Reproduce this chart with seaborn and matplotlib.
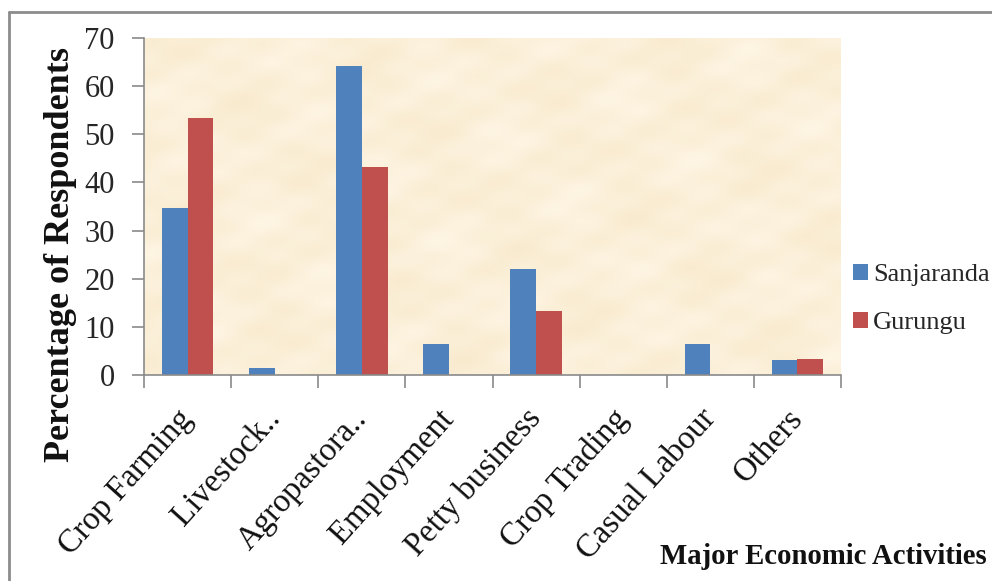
import numpy as np
import pandas as pd
import matplotlib
matplotlib.use("Agg")
import matplotlib.pyplot as plt
from matplotlib.lines import Line2D
from matplotlib.ticker import FixedLocator
from matplotlib.colors import LinearSegmentedColormap
import seaborn as sns

# Survey results: share of respondents by major economic activity
activities = ["Crop Farming", "Livestock..", "Agropastora..", "Employment",
              "Petty business", "Crop Trading", "Casual Labour", "Others"]
sanjaranda = [34.6, 1.5, 64.2, 6.4, 22.0, 0.0, 6.4, 3.1]
gurungu = [53.4, 0.0, 43.3, 0.0, 13.2, 0.0, 0.0, 3.4]
sites = ["Sanjaranda", "Gurungu"]
yticks = [0, 10, 20, 30, 40, 50, 60, 70]

df = pd.DataFrame({
    "Activity": activities * 2,
    "Site": [sites[0]] * len(activities) + [sites[1]] * len(activities),
    "Percent": sanjaranda + gurungu,
})

sns.set_theme(style="white")
plt.rcParams["font.family"] = ["Liberation Serif", "DejaVu Serif"]

fig = plt.figure(figsize=(9.92, 5.81), dpi=100)
fig.patch.set_facecolor("white")
ax = fig.add_axes([144 / 992, 1 - 375 / 581, (841 - 144) / 992, (375 - 38) / 581])
ax.set_facecolor("#FCF0DA")

# soft parchment fill behind the bars
gx, gy = np.meshgrid(np.linspace(0, 1, 350), np.linspace(0, 1, 170))
mottle = (np.sin(gx * 23 + gy * 7) * np.cos(gy * 19 - gx * 5)
          + 0.6 * np.sin(gx * 41 - gy * 29 + 1.3) * np.sin(gy * 37 + 0.7)
          + 0.4 * np.cos(gx * 67 + gy * 53))
mottle = (mottle - mottle.min()) / (mottle.max() - mottle.min())
parchment = LinearSegmentedColormap.from_list("parchment", ["#FEF5E4", "#F8EACD"])
ax.imshow(mottle, cmap=parchment, extent=(0, 1, 0, 1), transform=ax.transAxes,
          aspect="auto", interpolation="bicubic", zorder=0)

palette = {"Sanjaranda": "#4F81BD", "Gurungu": "#C0504D"}
sns.barplot(data=df, x="Activity", y="Percent", hue="Site", order=activities,
            hue_order=sites, palette=palette, width=0.59, gap=0,
            saturation=1, edgecolor="none", linewidth=0, ax=ax, legend=True,
            zorder=2)

axis_grey = "#8A8A8A"
ax.set_xlim(-0.5, len(activities) - 0.5)
ax.set_ylim(0, 70)
ax.set_yticks(yticks)
ax.set_yticklabels([str(v) for v in yticks], fontsize=22, color="#262626")
ax.tick_params(axis="y", length=9, width=1.2, color=axis_grey, pad=12, left=True)

# category boundaries carry the x ticks, labels sit on the centres
ax.xaxis.set_minor_locator(FixedLocator(np.arange(-0.5, len(activities), 1.0)))
ax.tick_params(axis="x", which="minor", length=9, width=1.2, color=axis_grey,
               bottom=True, direction="out")
ax.tick_params(axis="x", which="major", length=0, pad=28)
ax.set_xticks(range(len(activities)))
ax.set_xticklabels(activities, rotation=48, ha="right", va="center",
                   rotation_mode="anchor", fontsize=23.5, color="#111111")

for side in ("top", "right"):
    ax.spines[side].set_visible(False)
for side in ("left", "bottom"):
    ax.spines[side].set_color(axis_grey)
    ax.spines[side].set_linewidth(1.2)
    ax.spines[side].set_zorder(3)

ax.set_xlabel("")
ax.set_ylabel("")
fig.text(61 / 992, 1 - 254 / 581, "Percentage of Respondents", rotation=90,
         ha="center", va="center", fontsize=26, fontweight="bold", color="#111111")
fig.text(987 / 992, 1 - 557 / 581, "Major Economic Activities", ha="right",
         va="center", fontsize=20.7, fontweight="bold", color="#111111")

handles, labels = ax.get_legend_handles_labels()
ax.legend(handles, labels, loc="center left",
          bbox_to_anchor=(853 / 992, 1 - 299 / 581), bbox_transform=fig.transFigure,
          frameon=False, fontsize=19, handlelength=0.56, handleheight=0.56,
          handletextpad=0.2, labelspacing=0.95, borderpad=0, borderaxespad=0)

# outer frame (top and left edges)
fig.add_artist(Line2D([9 / 992, 1.0], [1 - 12 / 581, 1 - 12 / 581],
                      transform=fig.transFigure, color="#8C8C8C", lw=2))
fig.add_artist(Line2D([9 / 992, 9 / 992], [0.0, 1 - 12 / 581],
                      transform=fig.transFigure, color="#8C8C8C", lw=2))

fig.savefig("out.png", dpi=100, facecolor="white")
